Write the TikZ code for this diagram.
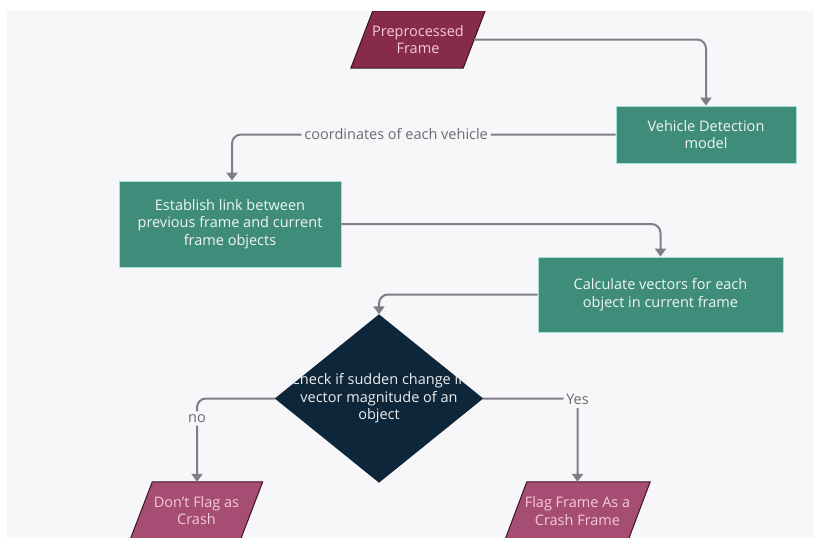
\documentclass[tikz,border=0pt]{standalone}
\usepackage{fontspec}
\setmainfont{Open Sans}
\usetikzlibrary{shapes.geometric,arrows.meta,calc}
\definecolor{panel}{HTML}{F7F7FA}
\definecolor{maroon}{HTML}{862B4C}
\definecolor{mauve}{HTML}{A64D73}
\definecolor{pinktxt}{HTML}{F6C9D9}
\definecolor{teal}{HTML}{3F8C7B}
\definecolor{tealedge}{HTML}{9FE3D6}
\definecolor{navy}{HTML}{0E2639}
\definecolor{conn}{HTML}{7E7E86}
\definecolor{lbl}{HTML}{6A6A70}
\definecolor{pedge}{HTML}{3B1526}
\tikzset{
  txt/.style={font=\fontsize{14.5}{17.5}\selectfont, align=center},
  procbox/.style={txt, draw=tealedge, line width=0.8pt, fill=teal, text=white!92!teal, inner sep=0pt},
  iobox/.style={txt, inner sep=0pt, text=pinktxt},
  decbox/.style={txt, text=white!92!navy, inner sep=0pt, minimum width=208pt, minimum height=168pt},
  conline/.style={draw=conn, line width=2pt, rounded corners=9pt},
  arr/.style={conline, -{Triangle[width=11pt,length=8pt]}},
  clabel/.style={font=\fontsize{14.5}{16}\selectfont, text=lbl, fill=panel, inner sep=3pt}
}
\begin{document}
\begin{tikzpicture}[x=1pt,y=-1pt]
\useasboundingbox (0,0) rectangle (814,546);
\fill[white] (0,0) rectangle (814,546);
\fill[panel] (7,11) rectangle (814,538);

% Preprocessed Frame
\node[iobox, minimum width=112pt, minimum height=57pt] (pre) at (418,39.5) {};
\draw[fill=maroon, draw=pedge, line width=1pt]
  ($(pre.south west)+(-11,0)$) -- ($(pre.south east)+(-11,0)$) --
  ($(pre.north east)+(11,0)$) -- ($(pre.north west)+(11,0)$) -- cycle;
\node[iobox, minimum width=112pt, minimum height=57pt] at (pre) {Preprocessed\\Frame};

% Vehicle Detection
\node[procbox, minimum width=180pt, minimum height=57pt] (vd) at (706,134.5) {Vehicle Detection\\model};

% Establish link
\node[procbox, minimum width=222pt, minimum height=86pt] (est) at (230,224) {Establish link between\\previous frame and current\\frame objects};

% Calculate vectors
\node[procbox, minimum width=245pt, minimum height=75pt] (calc) at (660.5,294.5) {Calculate vectors for each\\object in current frame};

% Decision
\node[decbox] (dec) at (379,398.5) {};
\fill[navy] (dec.north) -- (dec.east) -- (dec.south) -- (dec.west) -- cycle;
\node[decbox] at (dec) {Check if sudden change in\\vector magnitude of an\\object};

% Don't flag
\node[iobox, minimum width=110pt, minimum height=57pt] (dont) at (196.5,510.5) {};
\draw[fill=mauve, draw=pedge, line width=1pt]
  ($(dont.south west)+(-11,0)$) -- ($(dont.south east)+(-11,0)$) --
  ($(dont.north east)+(11,0)$) -- ($(dont.north west)+(11,0)$) -- cycle;
\node[iobox, minimum width=110pt, minimum height=57pt] at (dont) {Don't Flag as\\Crash};

% Flag frame
\node[iobox, minimum width=123pt, minimum height=58pt] (flag) at (577.5,511) {};
\draw[fill=mauve, draw=pedge, line width=1pt]
  ($(flag.south west)+(-11,0)$) -- ($(flag.south east)+(-11,0)$) --
  ($(flag.north east)+(11,0)$) -- ($(flag.north west)+(11,0)$) -- cycle;
\node[iobox, minimum width=123pt, minimum height=58pt] at (flag) {Flag Frame As a\\Crash Frame};

% white margin over the top/bottom edges of the shapes
\fill[white] (0,0) rectangle (814,11);
\fill[white] (0,538) rectangle (814,546);

% Connectors
\draw[arr] (pre.east) -| (vd.north);
\draw[arr] (vd.west) -| ($(est.north)+(2,0)$)
  node[clabel, pos=0.286] {coordinates of each vehicle};
\draw[arr] (est.east) -| (calc.north);
\draw[arr] (calc.west) -| (dec.north);
\coordinate (dontTop) at ($(dont.north)+(0.5,0)$);
\draw[arr] (dec.west) -| (dontTop) node[clabel, pos=0.62] {no};
\draw[arr] (dec.east) -| (flag.north) node[clabel, pos=0.5, yshift=-1pt] {Yes};
\end{tikzpicture}
\end{document}
